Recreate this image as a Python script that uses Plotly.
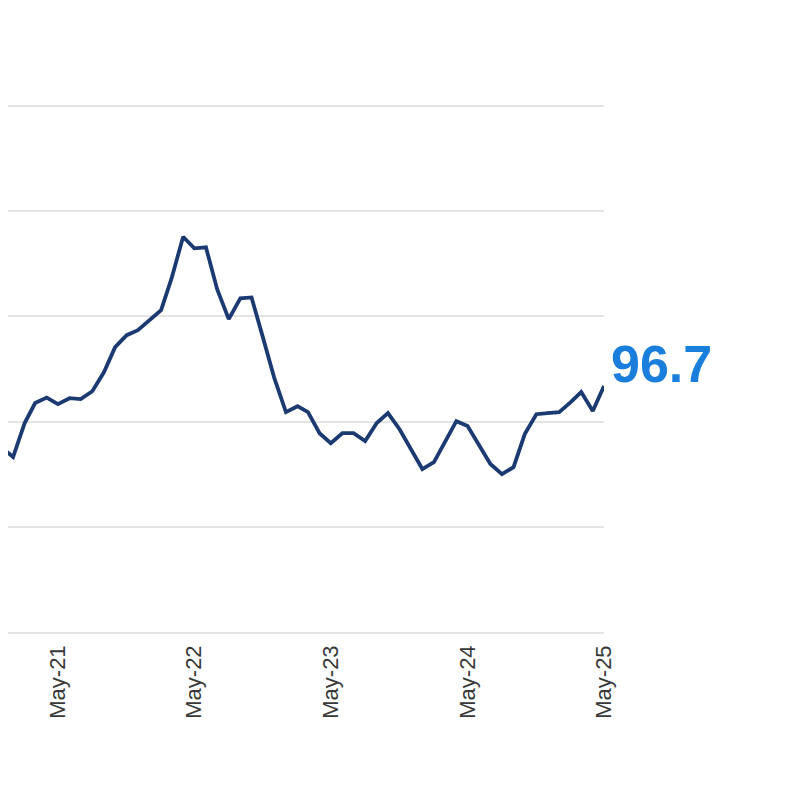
import pandas as pd
import plotly.graph_objects as go

# Monthly index values, Dec-2020 .. May-2025
months = pd.date_range("2020-12-01", "2025-05-01", freq="MS").strftime("%Y-%m-%d").tolist()
values = [
    93.8, 93.33, 94.94, 95.89, 96.15, 95.84, 96.12, 96.08, 96.45, 97.35,
    98.54, 99.11, 99.35, 99.82, 100.3, 101.8, 103.78, 103.23, 103.28, 101.29,
    99.87, 100.86, 100.9, 98.97, 97.07, 95.46, 95.74, 95.46, 94.46, 93.99,
    94.46, 94.46, 94.09, 94.94, 95.41, 94.65, 93.71, 92.76, 93.09, 94.04,
    95.03, 94.8, 93.85, 93.0, 92.52, 92.85, 94.42, 95.36, 95.41, 95.46,
    95.93, 96.41, 95.51, 96.7,
]
tick_dates = ["2021-05-01", "2022-05-01", "2023-05-01", "2024-05-01", "2025-05-01"]
tick_labels = ["May-21", "May-22", "May-23", "May-24", "May-25"]
last_label = "96.7"

fig = go.Figure()
fig.add_trace(go.Scatter(
    x=months, y=values, mode="lines",
    line=dict(color="#1b3a72", width=3.8),
    hoverinfo="skip", showlegend=False,
))

fig.add_annotation(
    x=months[-1], y=values[-1], xref="x", yref="y",
    text=f"<b>{last_label}</b>", showarrow=False,
    xanchor="left", yanchor="middle", xshift=5, yshift=22,
    font=dict(family="Liberation Sans, Arial, sans-serif", size=52, color="#1a7fdc"),
)

fig.update_layout(
    width=792, height=792,
    margin=dict(l=0, r=196, t=0, b=160, autoexpand=False),
    paper_bgcolor="white", plot_bgcolor="white",
    font=dict(family="Liberation Sans, Arial, sans-serif"),
    xaxis=dict(
        type="date", range=["2020-12-18 10:00", "2025-05-01"],
        tickvals=tick_dates, ticktext=tick_labels, tickangle=-90,
        showgrid=False, zeroline=False, showline=False, ticks="",
        tickfont=dict(size=22, color="#383838"),
    ),
    yaxis=dict(
        range=[84.65, 114.63], dtick=5, tick0=85,
        showgrid=True, gridcolor="#e4e4e4", gridwidth=2,
        zeroline=False, showline=False, showticklabels=False, ticks="",
    ),
)

fig.write_html("out.html")
